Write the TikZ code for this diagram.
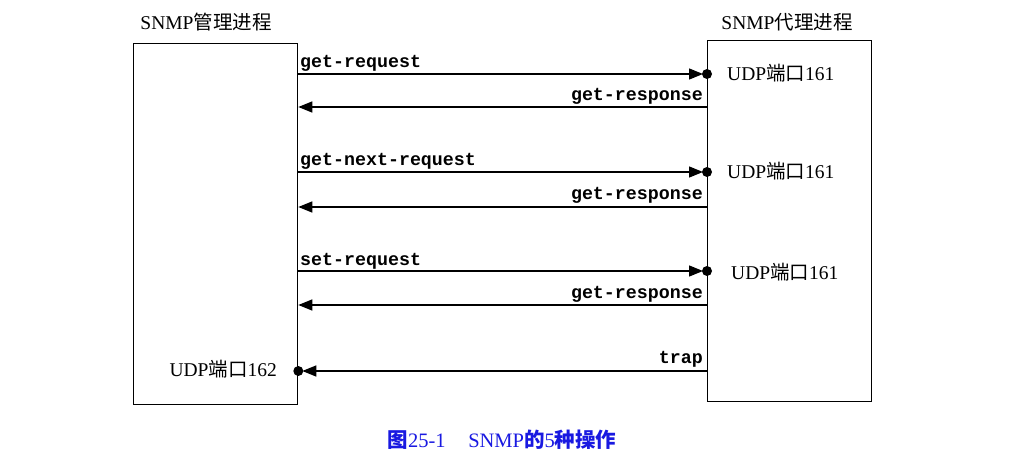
\documentclass[tikz,border=0pt]{standalone}
\usepackage{fontspec}
\setmainfont{Liberation Serif}
\setmonofont{Liberation Mono}
\newfontfamily\cjk{Noto Sans CJK SC}
\usetikzlibrary{arrows.meta}
\definecolor{capblue}{RGB}{25,25,225}
\begin{document}
\begin{tikzpicture}[x=1pt,y=-1pt,
  box/.style={draw,line width=1.3pt,minimum width=164pt,minimum height=361pt,inner sep=0pt,anchor=north west},
  lbl/.style={font=\fontsize{19.5}{21}\selectfont,inner sep=0pt},
  msg/.style={font=\fontsize{18.3}{20}\selectfont\ttfamily\bfseries,inner sep=0pt},
  conn/.style={line width=1.4pt,-{Triangle[length=14pt,width=11pt]},shorten >=4pt},
  dot/.style={circle,fill,inner sep=0pt,minimum size=10pt}]
\useasboundingbox (0,0) rectangle (1011,457);
\node[box] (mgr) at (133,43) {};
\node[box] (agt) at (707,40) {};
\node[lbl] (tm) at (206,22) {SNMP{\cjk 管理进程}};
\node[lbl] (ta) at (787,22) {SNMP{\cjk 代理进程}};
\foreach \n/\y in {a1/74,r1/107,a2/172,r2/207,a3/271,r3/305,t/371}{
  \coordinate (L\n) at (mgr.east |- 0,\y);
  \coordinate (R\n) at (agt.west |- 0,\y);
}
\draw[conn] (La1) -- (Ra1);
\node[dot] (pa1) at (Ra1) {};
\draw[conn,shorten >=0pt] (Rr1) -- (Lr1);
\draw[conn] (La2) -- (Ra2);
\node[dot] (pa2) at (Ra2) {};
\draw[conn,shorten >=0pt] (Rr2) -- (Lr2);
\draw[conn] (La3) -- (Ra3);
\node[dot] (pa3) at (Ra3) {};
\draw[conn,shorten >=0pt] (Rr3) -- (Lr3);
\draw[conn] (Rt) -- (Lt);
\node[dot] (pt) at (Lt) {};
\node[msg,anchor=base west] (m1) at (300,68) {get-request};
\node[msg,anchor=base east] (m2) at (703,101) {get-response};
\node[msg,anchor=base west] (m3) at (300,166) {get-next-request};
\node[msg,anchor=base east] (m4) at (703,199) {get-response};
\node[msg,anchor=base west] (m5) at (300,265) {set-request};
\node[msg,anchor=base east] (m6) at (703,298) {get-response};
\node[msg,anchor=base east] (m7) at (703,363) {trap};
\node[lbl,anchor=west] (u1) at (727,73) {UDP{\cjk 端口}161};
\node[lbl,anchor=west] (u2) at (727,171) {UDP{\cjk 端口}161};
\node[lbl,anchor=west] (u3) at (731,272) {UDP{\cjk 端口}161};
\node[lbl,anchor=east] (u4) at (277,369) {UDP{\cjk 端口}162};
\node[lbl,text=capblue,font=\fontsize{20.5}{22}\selectfont] (cap) at (502,440) {{\cjk\bfseries 图}25-1\hspace{1.1em}SNMP{\cjk\bfseries 的}5{\cjk\bfseries 种操作}};
\end{tikzpicture}
\end{document}
